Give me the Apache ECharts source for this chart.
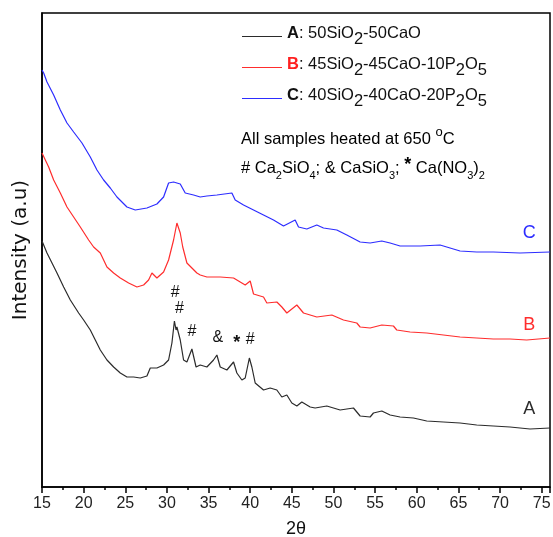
<!DOCTYPE html>
<html lang="en">
<head>
  <meta charset="utf-8">
  <title>XRD patterns</title>
  <script src="https://cdn.jsdelivr.net/npm/echarts@6/dist/echarts.min.js"></script>
  <style>
    html, body, #chart { width: 100%; height: 100%; margin: 0; padding: 0; overflow: hidden; background: #fff; }
  </style>
</head>
<body>
  <div id="chart"></div>
  <script>
    // 2theta values and intensities (a.u.)
    var aTheta = [15.0, 15.6, 16.2, 16.8, 17.6, 18.4, 19.4, 20.0, 20.8, 21.4, 22.0, 22.8, 23.6, 24.4, 25.2, 26.0, 26.8, 27.6, 28.0, 28.8, 29.6, 30.2, 30.6, 30.9, 31.1, 31.2, 31.6, 32.0, 32.4, 33.0, 33.5, 34.0, 34.8, 35.6, 36.0, 36.4, 37.2, 38.0, 38.4, 39.0, 39.4, 39.9, 40.2, 40.6, 41.6, 42.4, 43.2, 43.8, 44.4, 45.0, 45.6, 46.2, 47.2, 47.8, 49.2, 50.8, 52.4, 53.2, 54.4, 54.8, 55.8, 56.8, 58.0, 59.6, 61.2, 63.2, 65.2, 67.2, 69.2, 71.2, 73.6, 76.0];
    var aInt   = [246, 234, 224, 214, 200, 187, 174, 167, 157, 147, 137, 127, 120, 114, 110, 110, 109, 111, 119, 119, 122, 127, 144, 166, 157, 160, 147, 127, 125, 138, 120, 122, 120, 127, 132, 120, 117, 125, 114, 107, 109, 129, 120, 104, 97, 99, 97, 90, 92, 84, 81, 85, 80, 79, 81, 77, 79, 71, 70, 74, 76, 72, 70, 69, 66, 65, 64, 62, 61, 60, 58, 59];

    var bTheta = [15.0, 15.2, 15.8, 16.4, 17.2, 18.0, 18.8, 19.6, 20.6, 21.2, 22.0, 22.8, 23.6, 24.4, 25.4, 26.4, 27.2, 27.8, 28.2, 28.8, 29.6, 30.2, 30.8, 31.2, 31.6, 31.9, 32.4, 33.0, 33.6, 34.0, 34.8, 36.4, 38.0, 38.8, 39.4, 40.0, 40.4, 41.6, 42.0, 43.2, 43.8, 44.4, 45.6, 46.4, 48.0, 49.8, 51.2, 52.8, 53.2, 54.4, 55.8, 57.2, 57.6, 59.2, 61.2, 63.2, 65.2, 67.2, 69.2, 71.2, 73.2, 76.0];
    var bInt   = [334, 332, 320, 307, 294, 280, 270, 260, 247, 240, 234, 220, 214, 209, 204, 200, 202, 207, 214, 209, 215, 227, 247, 264, 254, 240, 224, 219, 214, 212, 210, 210, 209, 205, 202, 206, 193, 190, 184, 185, 180, 174, 182, 174, 170, 172, 167, 164, 160, 159, 162, 161, 157, 155, 154, 152, 150, 149, 148, 148, 147, 149];

    var cTheta = [15.0, 15.2, 15.6, 16.4, 17.2, 18.0, 18.8, 19.8, 20.8, 21.6, 22.4, 23.2, 24.0, 25.2, 26.2, 27.6, 28.8, 29.6, 30.2, 30.8, 31.6, 32.2, 33.2, 34.0, 34.8, 36.0, 37.8, 38.2, 39.2, 40.4, 41.6, 42.8, 44.0, 45.4, 45.8, 46.8, 48.0, 48.8, 50.4, 51.6, 53.2, 54.4, 55.8, 56.8, 58.0, 60.4, 62.8, 64.0, 65.2, 67.2, 69.2, 72.4, 76.0];
    var cInt   = [417, 414, 405, 392, 377, 364, 355, 344, 330, 317, 307, 299, 290, 280, 277, 279, 283, 290, 304, 305, 303, 294, 292, 290, 291, 292, 294, 287, 282, 277, 272, 267, 261, 267, 260, 258, 262, 259, 257, 252, 245, 244, 246, 244, 241, 241, 242, 239, 236, 235, 235, 234, 235];

    var xTicks = [15, 20, 25, 30, 35, 40, 45, 50, 55, 60, 65, 70, 75];

    // phase markers above the peaks of sample A
    var peakMarks = ['#', '#', '#', '&', '*', '#'];
    var peakTheta = [31.0, 31.5, 33.0, 36.1, 38.4, 40.0];
    var peakInt   = [194, 178, 155, 149, 144, 147];

    var seriesNames = ['A', 'B', 'C'];
    var seriesColors = ['#2b2b2b', '#ff2d2d', '#2d2dff'];
    var curveLabelTheta = 73.5;
    var curveLabelInt = [78, 162, 254];

    function pairs(xs, ys) {
      return xs.map(function (x, i) { return [x, ys[i]]; });
    }

    var chart = echarts.init(document.getElementById('chart'));

    var font = 'Liberation Sans, Arial, sans-serif';
    var fs = 16.5;

    function curveSeries(idx, data, extraMarks) {
      var marks = [{
        name: seriesNames[idx],
        coord: [curveLabelTheta, curveLabelInt[idx]],
        label: { color: seriesColors[idx], fontSize: 18 }
      }].concat(extraMarks || []);
      return {
        name: seriesNames[idx],
        type: 'line',
        data: data,
        showSymbol: false,
        symbol: 'none',
        lineStyle: { width: 1.2, color: seriesColors[idx] },
        itemStyle: { color: seriesColors[idx] },
        z: 3 - idx,
        markPoint: {
          symbol: 'circle',
          symbolSize: 1,
          itemStyle: { color: 'rgba(0,0,0,0)' },
          label: { show: true, position: 'inside', formatter: '{b}', fontFamily: font, fontSize: 15, color: '#111' },
          data: marks
        }
      };
    }

    var peakData = peakMarks.map(function (m, i) {
      return {
        name: m,
        coord: [peakTheta[i], peakInt[i]],
        label: m === '*' ? { fontSize: 18, fontWeight: 'bold', color: '#111' } : { fontSize: 16, color: '#111' }
      };
    });

    var sub = { fontSize: fs, fontFamily: font, color: '#111', verticalAlign: 'top', padding: [6, 0, 0, 0] };
    var nrm = { fontSize: fs, fontFamily: font, color: '#111', verticalAlign: 'top' };

    var legendText = {
      A: '{bold|A}{n|: 50SiO}{s|2}{n|-50CaO}',
      B: '{boldR|B}{n|: 45SiO}{s|2}{n|-45CaO-10P}{s|2}{n|O}{s|5}',
      C: '{bold|C}{n|: 40SiO}{s|2}{n|-40CaO-20P}{s|2}{n|O}{s|5}'
    };

    var option = {
      animation: false,
      backgroundColor: '#fff',
      grid: {
        left: 42, right: 3, top: 13, bottom: 50,
        outerBoundsMode: 'none',
        show: true, borderColor: '#000', borderWidth: 1.5
      },
      legend: {
        data: seriesNames,
        orient: 'vertical',
        left: 237,
        top: 20,
        itemWidth: 40,
        itemHeight: 1,
        itemGap: 8,
        icon: 'rect',
        formatter: function (name) { return legendText[name]; },
        textStyle: {
          rich: {
            n: nrm,
            s: sub,
            bold: Object.assign({}, nrm, { fontWeight: 'bold' }),
            boldR: Object.assign({}, nrm, { fontWeight: 'bold', color: '#ff2020' })
          }
        }
      },
      xAxis: {
        type: 'value',
        min: 15,
        max: 76,
        interval: 5,
        name: '2θ',
        nameLocation: 'middle',
        nameGap: 33,
        nameTextStyle: { fontFamily: font, fontSize: 18, color: '#111' },
        axisLine: { show: true, lineStyle: { color: '#000', width: 1.5 } },
        axisTick: { show: true, inside: false, length: 6, lineStyle: { color: '#000', width: 1.5 } },
        minorTick: { show: true, splitNumber: 2, length: 3, lineStyle: { color: '#000', width: 1.5 } },
        axisLabel: {
          fontFamily: font, fontSize: 16, color: '#222', margin: 9,
          formatter: function (v) { return xTicks.indexOf(v) >= 0 ? String(v) : ''; }
        },
        splitLine: { show: false }
      },
      yAxis: {
        type: 'value',
        min: 0,
        max: 474,
        name: 'Intensity (a.u)',
        nameLocation: 'middle',
        nameGap: 11,
        nameTextStyle: { fontFamily: 'DejaVu Sans, sans-serif', fontSize: 20, color: '#111' },
        axisLine: { show: true, lineStyle: { color: '#000', width: 1.5 } },
        axisTick: { show: false },
        axisLabel: { show: false },
        splitLine: { show: false }
      },
      graphic: [
        {
          type: 'text',
          left: 241,
          top: 126,
          style: {
            text: '{n|All samples heated at 650 }{o|o}{n|C}',
            rich: {
              n: Object.assign({}, nrm, { padding: [5, 0, 0, 0] }),
              o: { fontSize: 13, fontFamily: font, color: '#111', verticalAlign: 'top' }
            }
          }
        },
        {
          type: 'text',
          left: 241,
          top: 156,
          style: {
            text: '{n|# Ca}{s|2}{n|SiO}{s|4}{n|; & CaSiO}{s|3}{n|; }{st|*}{n| Ca(NO}{s|3}{n|)}{s|2}',
            rich: {
              n: Object.assign({}, nrm, { padding: [4, 0, 0, 0] }),
              s: { fontSize: 11, fontFamily: font, color: '#111', verticalAlign: 'top', padding: [14, 0, 0, 0] },
              st: { fontSize: 18, fontWeight: 'bold', fontFamily: font, color: '#111', verticalAlign: 'top' }
            }
          }
        }
      ],
      series: [
        curveSeries(0, pairs(aTheta, aInt), peakData),
        curveSeries(1, pairs(bTheta, bInt)),
        curveSeries(2, pairs(cTheta, cInt))
      ]
    };

    chart.setOption(option);
  </script>
</body>
</html>
